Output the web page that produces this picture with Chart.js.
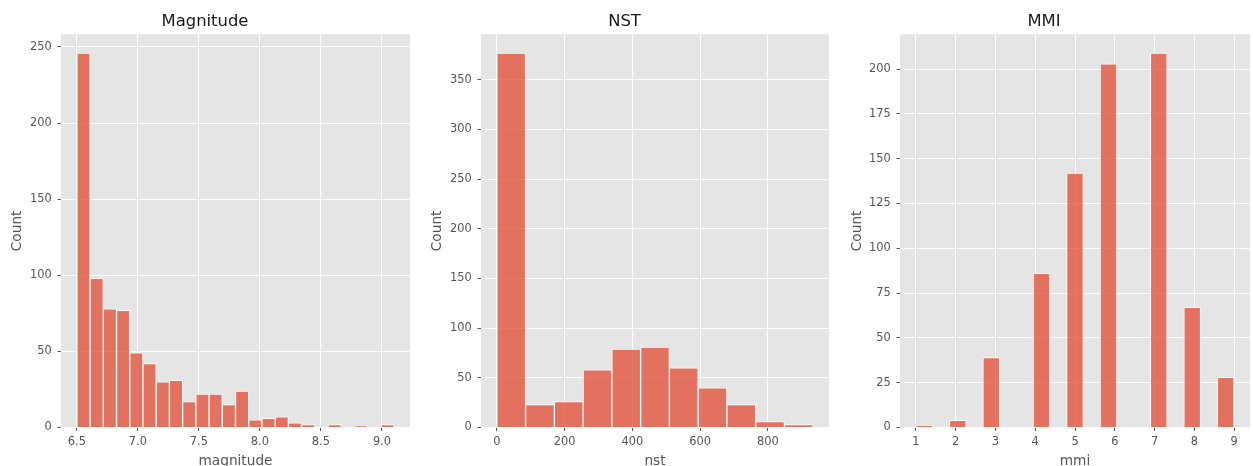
<!DOCTYPE html>
<html>
<head>
<meta charset="utf-8">
<script src="https://cdn.jsdelivr.net/npm/chart.js@4.4.0/dist/chart.umd.min.js"></script>
<style>
  html, body { margin: 0; padding: 0; width: 1253px; height: 466px; overflow: hidden; background: #fff; }
  canvas { position: absolute; top: 0; }
</style>
</head>
<body>
<canvas id="c1" width="471" height="480" style="left:0px"></canvas>
<canvas id="c2" width="470" height="480" style="left:420px"></canvas>
<canvas id="c3" width="474" height="480" style="left:838px"></canvas>
<script>
// Magnitude: 24 bins between 6.5 and 9.1
const magRange = [6.5, 9.1];
const magCounts = [246, 98, 78, 77, 49, 42, 30, 31, 17, 22, 22, 15, 24, 5, 6, 7, 3, 2, 0, 2, 0, 1, 0, 2];
const magTicksX = [6.5, 7.0, 7.5, 8.0, 8.5, 9.0];
const magTicksY = [0, 50, 100, 150, 200, 250];

// NST: 11 bins between 0 and 934
const nstRange = [0, 934];
const nstCounts = [377, 23, 26, 58, 79, 81, 60, 40, 23, 6, 3];
const nstTicksX = [0, 200, 400, 600, 800];
const nstTicksY = [0, 50, 100, 150, 200, 250, 300, 350];

// MMI: 19 bins between 1 and 9
const mmiRange = [1, 9];
const mmiCounts = [1, 0, 4, 0, 39, 0, 0, 86, 0, 142, 0, 203, 0, 0, 209, 0, 67, 0, 28];
const mmiTicksX = [1, 2, 3, 4, 5, 6, 7, 8, 9];
const mmiTicksY = [0, 25, 50, 75, 100, 125, 150, 175, 200];

const FONT = "'DejaVu Sans', sans-serif";

// grey panel behind the plot, like the ggplot style
const panelBg = {
    id: 'panelBg',
    beforeDraw(chart) {
        const a = chart.chartArea;
        const ctx = chart.ctx;
        ctx.save();
        ctx.fillStyle = '#E5E5E5';
        ctx.fillRect(a.left, a.top, a.right - a.left, a.bottom - a.top);
        ctx.restore();
    }
};

function histogram(id, title, xLabel, range, counts, ticksX, ticksY, yWidth, yTitlePad, fmt) {
    const w = (range[1] - range[0]) / counts.length;
    const points = counts.map((c, i) => ({ x: range[0] + (i + 0.5) * w, y: c }));
    const span = range[1] - range[0];

    new Chart(document.getElementById(id), {
        type: 'bar',
        data: {
            datasets: [{
                data: points,
                backgroundColor: 'rgba(226, 74, 51, 0.75)',
                borderColor: 'rgba(255, 255, 255, 0.8)',
                borderWidth: 1,
                barPercentage: 1,
                categoryPercentage: 1
            }]
        },
        options: {
            responsive: false,
            animation: false,
            layout: { padding: { left: 0, right: yWidth, top: 0, bottom: 0 } },
            plugins: {
                legend: { display: false },
                tooltip: { enabled: false },
                title: {
                    display: true,
                    text: title,
                    color: '#1a1a1a',
                    font: { family: FONT, size: 16.4, weight: 'normal' },
                    padding: { top: 11.8, bottom: 2.8 }
                }
            },
            scales: {
                x: {
                    type: 'linear',
                    offset: false,
                    min: range[0] - span * 0.05,
                    max: range[1] + span * 0.05,
                    afterBuildTicks: s => { s.ticks = ticksX.map(v => ({ value: v })); },
                    afterFit: s => { s.height = 52.5; },
                    border: { display: false },
                    grid: { offset: false, color: '#ffffff', lineWidth: 1, tickColor: '#555555', tickLength: 3.5, tickWidth: 1 },
                    ticks: {
                        color: '#555555',
                        padding: 4.2,
                        maxRotation: 0,
                        autoSkip: false,
                        font: { family: FONT, size: 11.4 },
                        callback: v => fmt(v)
                    },
                    title: {
                        display: true,
                        text: xLabel,
                        color: '#555555',
                        font: { family: FONT, size: 13.7 },
                        padding: { top: 0, bottom: 10.5 }
                    }
                },
                y: {
                    min: 0,
                    max: Math.max(...counts) * 1.05,
                    afterBuildTicks: s => { s.ticks = ticksY.map(v => ({ value: v })); },
                    afterFit: s => { s.width = yWidth; },
                    border: { display: false },
                    grid: { color: '#ffffff', lineWidth: 1, tickColor: '#555555', tickLength: 3.5, tickWidth: 1 },
                    ticks: {
                        color: '#555555',
                        padding: 5.8,
                        font: { family: FONT, size: 11.4 }
                    },
                    title: {
                        display: true,
                        text: 'Count',
                        color: '#555555',
                        font: { family: FONT, size: 13.7 },
                        padding: { top: yTitlePad, bottom: 0 }
                    }
                }
            }
        },
        plugins: [panelBg]
    });
}

histogram('c1', 'Magnitude', 'magnitude', magRange, magCounts, magTicksX, magTicksY, 61, 9.4, v => v.toFixed(1));
histogram('c2', 'NST', 'nst', nstRange, nstCounts, nstTicksX, nstTicksY, 61, 9.4, v => String(v));
histogram('c3', 'MMI', 'mmi', mmiRange, mmiCounts, mmiTicksX, mmiTicksY, 62, 11.4, v => String(v));
</script>
</body>
</html>
